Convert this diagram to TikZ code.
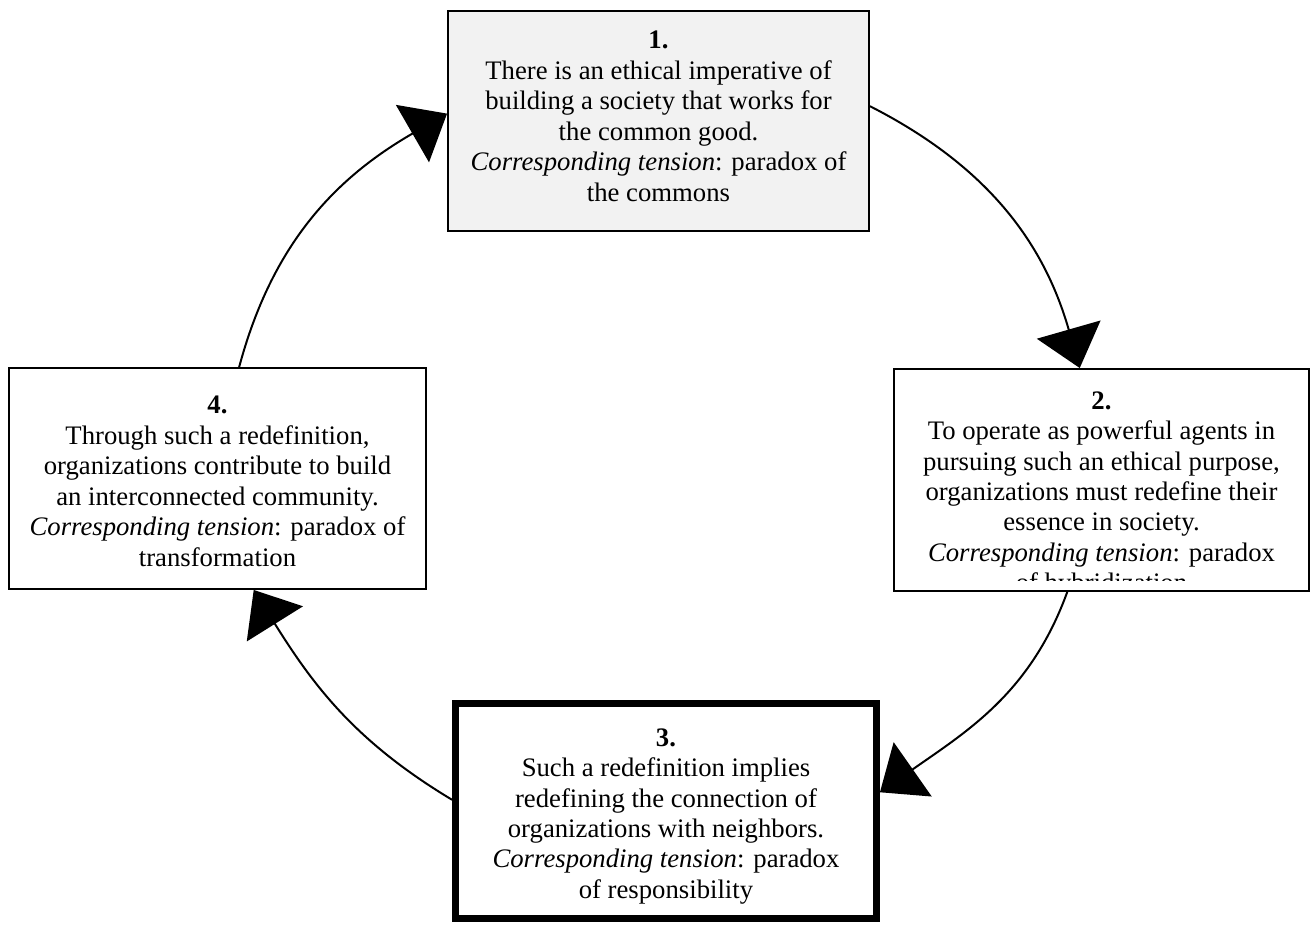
\documentclass[tikz,border=0pt]{standalone}
\usepackage{fontspec}
\setmainfont{Liberation Serif}
\usetikzlibrary{arrows.meta}

\begin{document}
\begin{tikzpicture}[x=0.02cm, y=0.02cm,
		stage/.style={draw, line width=1.13pt, inner sep=0pt},
		stagetext/.style={anchor=north, align=center, inner sep=0pt, font=\fontsize{15.2}{17.35}\selectfont},
		cycle/.style={line width=1.13pt, -{Triangle[length=0.8cm, width=1.32cm]}}]
		\useasboundingbox (0,0) rectangle (1312,926);

		% the four stages of the cycle
		\node[stage, fill=black!5, minimum width=8.42cm, minimum height=4.40cm] (s1) at (658.5,805) {};
		\node[stage, minimum width=8.30cm, minimum height=4.44cm] (s2) at (1101.5,446) {};
		\node[stage, line width=3.97pt, minimum width=8.42cm, minimum height=4.30cm] (s3) at (666,115) {};
		\node[stage, minimum width=8.34cm, minimum height=4.42cm] (s4) at (217.5,447.5) {};

		\node[stagetext] (t1) at ([yshift=-0.42cm]s1.north) {\textbf{1.}\\There is an ethical imperative of\\building a society that works for\\the common good.\\\textit{Corresponding tension}: paradox of\\the commons};
		\begin{scope}
			\clip ([yshift=0.22cm]s2.south west) rectangle (s2.north east);
			\node[stagetext] (t2) at ([yshift=-0.46cm]s2.north) {\textbf{2.}\\To operate as powerful agents in\\pursuing such an ethical purpose,\\organizations must redefine their\\essence in society.\\\textit{Corresponding tension}: paradox\\of hybridization};
		\end{scope}
		\node[stagetext] (t3) at ([yshift=-0.56cm]s3.north) {\textbf{3.}\\Such a redefinition implies\\redefining the connection of\\organizations with neighbors.\\\textit{Corresponding tension}: paradox\\of responsibility};
		\node[stagetext] (t4) at ([yshift=-0.58cm]s4.north) {\textbf{4.}\\Through such a redefinition,\\organizations contribute to build\\an interconnected community.\\\textit{Corresponding tension}: paradox of\\transformation};

		% arrows between stages
		\draw[cycle] (s1.4) to[out=-27, in=106] (s2.101);
		\draw[cycle] (s2.253) to[out=-110, in=35] (s3.5);
		\draw[cycle] (s3.177) to[out=149, in=-58] (s4.288);
		\draw[cycle] (s4.79) to[out=75, in=210] (s1.178);
	\end{tikzpicture}
\end{document}
